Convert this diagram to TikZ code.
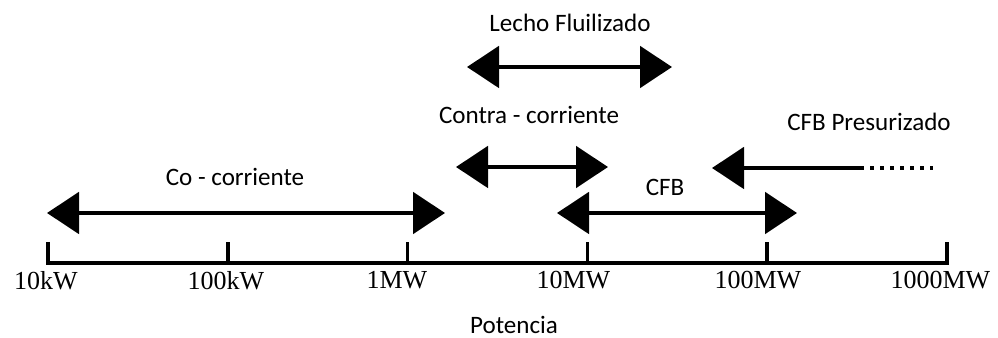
\documentclass[tikz,border=0pt]{standalone}
\usepackage{fontspec}
\setmainfont{Liberation Serif}
\newfontfamily\capfont{Carlito}
\usetikzlibrary{arrows.meta,positioning}

\begin{document}
\begin{tikzpicture}[x=0.75pt, y=0.75pt,
  every node/.style={inner sep=0pt}] % 1 unit = 1 px of the 998x338 frame

  % ===== Styles =====
  \tikzset{
    span/.style={{Triangle[length=24pt, width=31pt]}-{Triangle[length=24pt, width=31pt]}, line width=3pt},
    openspan/.style={{Triangle[length=24pt, width=31pt]}-, line width=3pt},
    dotline/.style={line width=3pt, dash pattern=on 3pt off 4.5pt},
    axisline/.style={line width=2.6pt, line join=miter},
    rangelabel/.style={font=\capfont\fontsize{18.8}{21}\selectfont},
    tlabel/.style={font=\fontsize{19.5}{21}\selectfont}
  }

  \useasboundingbox (0,0) rectangle (998,338);

  % ===== Power axis (one decade per tick) =====
  \foreach \i in {1,...,6}
    \coordinate (t\i) at ({48+179.8*(\i-1)},75);
  \coordinate (t1top) at (48,96);
  \coordinate (t6top) at (947,96);

  \draw[axisline] (t1top) -- (t1) -- (t6) -- (t6top);
  \foreach \i in {2,...,5}
    \draw[axisline] (t\i) -- ++(0,21);

  % Decade labels (sit a little left of their ticks)
  \foreach \i/\dx/\txt in {1/-1.5/10kW, 2/-1.5/100kW, 3/-8/1MW,
                           4/-10.5/10MW, 5/-7/100MW, 6/-5/1000MW}
    \node[tlabel, below=6pt of t\i, xshift=\dx pt] (l\i) {\txt};

  \node[rangelabel] (pot) at (514,13) {Potencia};

  % ===== Ranges =====
  \coordinate (lecho-l) at (467,271);  \coordinate (lecho-r) at (672,271);
  \coordinate (contra-l) at (456,171); \coordinate (contra-r) at (608,171);
  \coordinate (co-l) at (47,125);      \coordinate (co-r) at (445,125);
  \coordinate (cfb-l) at (557,125);    \coordinate (cfb-r) at (797,125);
  \coordinate (pres-l) at (712,170);   \coordinate (pres-m) at (860,170);
  \coordinate (pres-r) at (933,170);

  \node[rangelabel] (lecho) at (570,315) {Lecho Fluilizado};
  \node[rangelabel] (contra) at (529,223) {Contra - corriente};
  \node[rangelabel] (co) at (235,161) {Co - corriente};
  \node[rangelabel] (cfb) at (665,151) {CFB};
  \node[rangelabel] (pres) at (869,216) {CFB Presurizado};

  \draw[span] (lecho-l) -- (lecho-r);
  \draw[span] (contra-l) -- (contra-r);
  \draw[span] (co-l) -- (co-r);
  \draw[span] (cfb-l) -- (cfb-r);
  \draw[openspan] (pres-l) -- (pres-m);
  \draw[dotline] (pres-m) -- (pres-r);

\end{tikzpicture}
\end{document}
